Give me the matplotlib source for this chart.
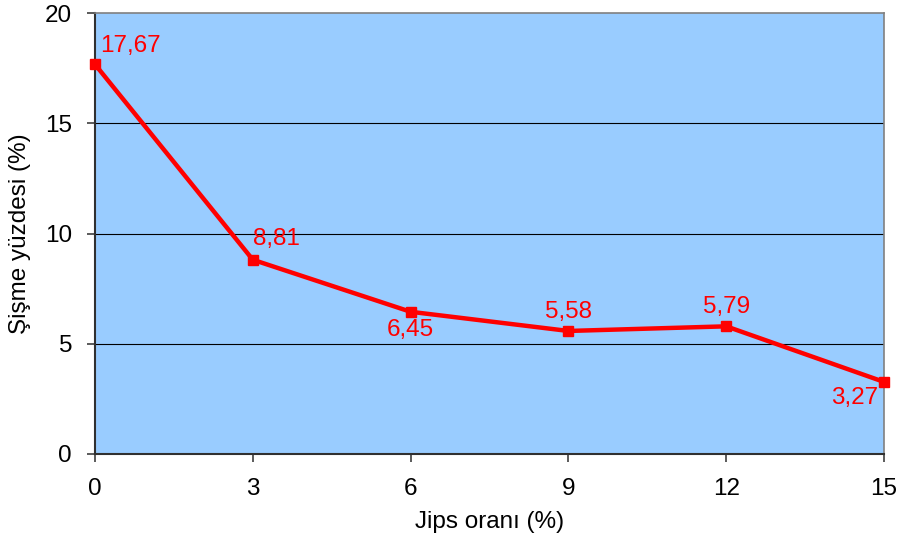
import matplotlib
matplotlib.use("Agg")
import matplotlib.pyplot as plt

plt.rcParams['font.family'] = ['Liberation Sans', 'DejaVu Sans']

x_vals = [0, 3, 6, 9, 12, 15]
y_vals = [17.67, 8.81, 6.45, 5.58, 5.79, 3.27]
labels = ["17,67", "8,81", "6,45", "5,58", "5,79", "3,27"]
y_ticks = [0, 5, 10, 15, 20]
x_ticks = [0, 3, 6, 9, 12, 15]

fig = plt.figure(figsize=(9.01, 5.40), dpi=100)
ax = fig.add_axes([95/901, 1-454/540, (884-95)/901, (454-13)/540])
ax.set_facecolor('#99CCFF')
ax.set_xlim(0, 15)
ax.set_ylim(0, 20)
ax.set_xticks(x_ticks)
ax.set_yticks(y_ticks)
for yv in [5, 10, 15]:
    ax.axhline(yv, color='black', lw=0.8, zorder=1)
ax.plot(x_vals, y_vals, color='#FF0000', lw=3.2, marker='s', ms=7, zorder=3, clip_on=False)

offsets = [(4, 5, 'left', 'bottom'), (0, 7, 'left', 'bottom'), (0, -5, 'center', 'top'),
           (0, 6, 'center', 'bottom'), (0, 6, 'center', 'bottom'), (-4, -4, 'right', 'top')]
for xv, yv, lab, (dx, dy, ha, va) in zip(x_vals, y_vals, labels, offsets):
    ax.annotate(lab, (xv, yv), xytext=(dx, dy), textcoords='offset points',
                ha=ha, va=va, color='#FF0000', fontsize=17.5, zorder=4)

for s in ['top', 'right']:
    ax.spines[s].set_color('#808080')
    ax.spines[s].set_linewidth(1.2)
for s in ['left', 'bottom']:
    ax.spines[s].set_color('#303030')
    ax.spines[s].set_linewidth(1.5)
ax.tick_params(direction='out', length=5.5, width=1.2, color='#404040', labelsize=17.5)
ax.tick_params(axis='x', pad=12)
ax.tick_params(axis='y', pad=11)
ax.set_xlabel('Jips oranı (%)', fontsize=17.5, labelpad=8)
ax.set_ylabel('Şişme yüzdesi (%)', fontsize=17.5, labelpad=10)

fig.savefig('out.png', dpi=100)
